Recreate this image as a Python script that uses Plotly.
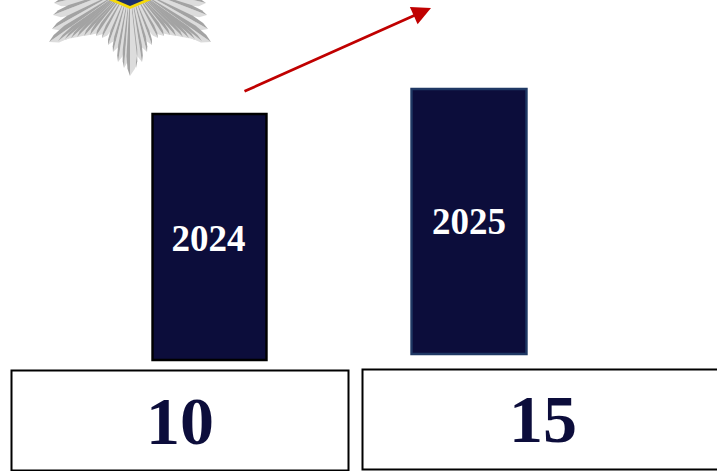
import plotly.graph_objects as go

years = ["2024", "2025"]
values = ["10", "15"]
bar_centers = [209.5, 469.0]
bar_widths = [114, 115]
bar_bottoms = [360, 354]
bar_heights = [246, 265]
label_y = [242, 225]
box_x0 = [11.5, 362.5]
box_x1 = [348.5, 760.0]
box_y0 = [370.5, 369.5]
box_y1 = [470.5, 469.5]
value_x = [180, 543]
value_y = [427, 425]

# emblem feather tips (left half, mirrored), from the top down to the bottom point
feather_tips = [(50, -8), (54, 3), (53, 15), (52, 29), (49, 42), (58, 41), (65, 39), (71, 38),
                (77, 37), (84, 36), (90, 35), (96, 36), (102, 38), (108, 45), (113, 52),
                (118, 62), (124, 68)]
feather_half_widths = [7, 7, 7, 8, 9, 6, 6, 6, 6, 6, 6, 6, 5, 5, 5, 5, 5]
center = (130, -15)
NAVY = "#0C0D3B"

fig = go.Figure()
fig.add_trace(go.Bar(
    x=bar_centers, y=[-h for h in bar_heights], base=bar_bottoms, width=bar_widths,
    marker=dict(color=NAVY, line=dict(color=["#000000", "#1F3864"], width=2.4)),
    hoverinfo="skip", showlegend=False,
))
fig.add_trace(go.Scatter(
    x=[bar_centers[0] - 1, bar_centers[1]], y=label_y, mode="text", text=years,
    textfont=dict(family="Liberation Serif", size=37, color="white", weight="bold"),
    hoverinfo="skip", showlegend=False,
))
fig.add_trace(go.Scatter(
    x=value_x, y=value_y, mode="text", text=values,
    textfont=dict(family="Liberation Serif", size=68, color=NAVY, weight="bold"),
    hoverinfo="skip", showlegend=False,
))

shapes = []
cx, cy = center
def poly(pts, fill):
    d = "M" + " L".join(f"{a:.1f},{b:.1f}" for a, b in pts) + " Z"
    return dict(type="path", path=d, xref="x", yref="y", fillcolor=fill, line=dict(width=0), layer="above")

def feather(x, ty, w, outer_sign):
    dx, dy = x - cx, ty - cy
    L = (dx * dx + dy * dy) ** 0.5
    nx, ny = -dy / L, dx / L
    def at(t, s):
        return (cx + dx * t + nx * s, cy + dy * t + ny * s)
    for side, col, k in ((-outer_sign, "#DCDCDC", 1.0), (outer_sign, "#A3A3A3", 0.5)):
        shapes.append(poly([at(0.1, 0), at(0.78, side * w * k), at(0.92, side * w * k * 0.7),
                            at(1.0, 0)], col))

for tip, w in zip(feather_tips, feather_half_widths):
    feather(tip[0], tip[1], w, 1)                    # left side
    feather(2 * cx - tip[0], tip[1], w, -1)          # right side
feather(130, 76, 7, 1)

shapes.append(poly([(90, -8), (130, 9), (170, -8)], "#F5D90A"))
shapes.append(poly([(90, -11), (130, 6), (170, -11)], "#1B2F6B"))

for i in range(2):
    shapes.append(dict(type="rect", xref="x", yref="y", x0=box_x0[i], x1=box_x1[i],
                       y0=box_y0[i], y1=box_y1[i], line=dict(color="#000000", width=2),
                       fillcolor="rgba(0,0,0,0)"))

fig.update_layout(
    width=717, height=471, margin=dict(l=0, r=0, t=0, b=0),
    paper_bgcolor="white", plot_bgcolor="white", shapes=shapes,
    xaxis=dict(range=[0, 717], visible=False, fixedrange=True),
    yaxis=dict(range=[471, 0], visible=False, fixedrange=True),
    annotations=[dict(x=431, y=8, ax=243, ay=92, xref="x", yref="y", axref="x", ayref="y",
                      text="", showarrow=True, arrowhead=2, arrowsize=1.4, arrowwidth=2.7,
                      arrowcolor="#C00000")],
)
fig.write_html("out.html", config={"displayModeBar": False},
               post_script="document.body.style.margin='0';document.body.style.overflow='hidden';")
